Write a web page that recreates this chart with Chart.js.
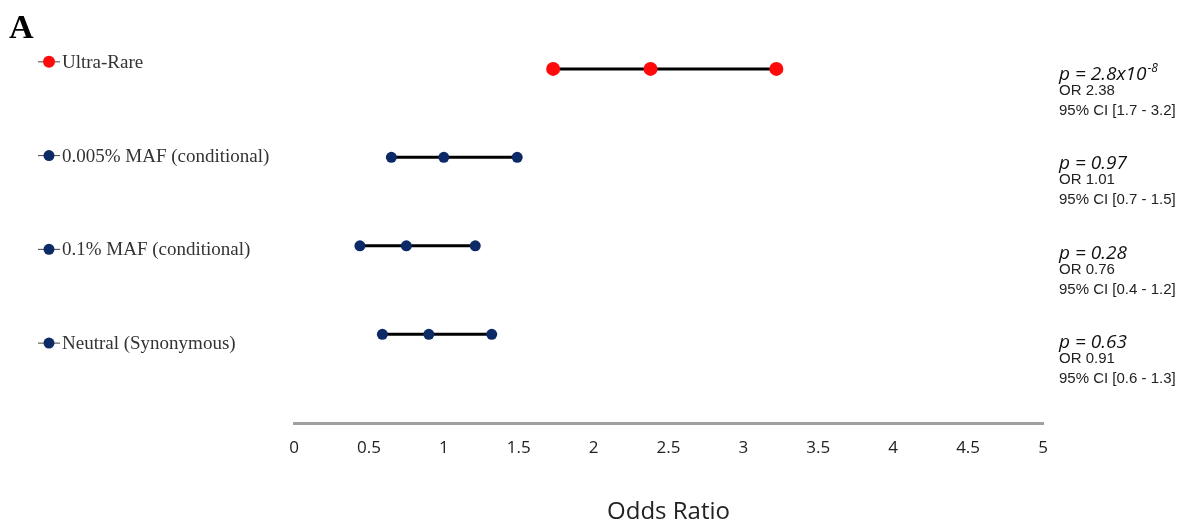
<!DOCTYPE html>
<html>
<head>
<meta charset="utf-8">
<script src="https://cdn.jsdelivr.net/npm/chart.js@4.4.1/dist/chart.umd.min.js"></script>
<style>
html,body{margin:0;padding:0;background:#fff;}
#wrap{width:1184px;height:521px;position:relative;}
</style>
</head>
<body>
<div id="wrap"><canvas id="c" width="1184" height="521"></canvas></div>
<script>
const categories = ['Ultra-Rare', '0.005% MAF (conditional)', '0.1% MAF (conditional)', 'Neutral (Synonymous)'];
const ciLower = [1.73, 0.65, 0.44, 0.59];
const oddsRatio = [2.38, 1.00, 0.75, 0.90];
const ciUpper = [3.22, 1.49, 1.21, 1.32];
const pBase = ['2.8x10', '0.97', '0.28', '0.63'];
const pExp = ['-8', '', '', ''];
const orText = ['OR 2.38', 'OR 1.01', 'OR 0.76', 'OR 0.91'];
const ciText = ['95% CI [1.7 - 3.2]', '95% CI [0.7 - 1.5]', '95% CI [0.4 - 1.2]', '95% CI [0.6 - 1.3]'];
const xTicks = [0, 0.5, 1, 1.5, 2, 2.5, 3, 3.5, 4, 4.5, 5];
const markerColors = ['#ff0a0a', '#0b2a66', '#0b2a66', '#0b2a66'];

const datasets = categories.map((c, i) => ({
  label: c,
  data: [{x: ciLower[i], y: i}, {x: oddsRatio[i], y: i}, {x: ciUpper[i], y: i}],
  showLine: true,
  borderColor: '#000',
  borderWidth: 3,
  pointBackgroundColor: markerColors[i],
  pointBorderColor: markerColors[i],
  pointRadius: i === 0 ? 7 : 5.5,
  pointBorderWidth: 0,
  pointHoverRadius: i === 0 ? 7 : 5.5
}));

const textPlugin = {
  id: 'texts',
  afterDraw(chart) {
    const ctx = chart.ctx;
    const y = chart.scales.y;
    ctx.save();
    ctx.fillStyle = '#000';
    ctx.font = 'bold 34px "Liberation Serif"';
    ctx.textBaseline = 'alphabetic';
    ctx.textAlign = 'left';
    ctx.fillText('A', 9, 38);
    categories.forEach((c, i) => {
      const ly = y.getPixelForValue(-0.08 + i * 1.06);
      ctx.strokeStyle = '#444';
      ctx.lineWidth = 1;
      ctx.beginPath();
      ctx.moveTo(38, ly); ctx.lineTo(60, ly); ctx.stroke();
      ctx.fillStyle = markerColors[i];
      ctx.beginPath();
      ctx.arc(49, ly, i === 0 ? 6 : 5.5, 0, Math.PI * 2); ctx.fill();
      ctx.fillStyle = '#333';
      ctx.font = '19px "Liberation Serif"';
      ctx.textBaseline = 'middle';
      ctx.fillText(c, 62, ly + 1);
      const ry = y.getPixelForValue(i * 1.01);
      ctx.fillStyle = '#111';
      ctx.font = 'italic 19px "Open Sans"';
      ctx.textBaseline = 'alphabetic';
      const s = 'p = ' + pBase[i];
      ctx.fillText(s, 1059, ry + 11);
      if (pExp[i]) {
        const w = ctx.measureText(s).width;
        ctx.font = 'italic 12px "Open Sans"';
        ctx.fillText(pExp[i], 1059 + w + 1, ry + 3);
      }
      ctx.fillStyle = '#222';
      ctx.font = '15px "Liberation Sans"';
      ctx.textBaseline = 'middle';
      ctx.fillText(orText[i], 1059, ry + 22);
      ctx.fillText(ciText[i], 1059, ry + 42);
    });
    ctx.restore();
  }
};

new Chart(document.getElementById('c'), {
  type: 'scatter',
  data: { datasets },
  options: {
    responsive: false,
    animation: false,
    events: [],
    layout: { padding: { left: 294, right: 141, top: 0, bottom: 0 } },
    plugins: { legend: { display: false }, tooltip: { enabled: false } },
    scales: {
      x: {
        type: 'linear',
        min: 0, max: 5,
        afterBuildTicks: (s) => { s.ticks = xTicks.map(v => ({ value: v })); },
        grid: { display: false, drawTicks: false },
        border: { display: true, color: '#a0a0a0', width: 3 },
        ticks: { padding: 14, color: '#222', font: { family: '"Open Sans"', size: 17 }, maxRotation: 0,
          callback: (v) => String(v) },
        title: { display: true, text: 'Odds Ratio', color: '#222',
          font: { family: '"Open Sans"', size: 24, lineHeight: 0.75 }, padding: { top: 31, bottom: 0 } }
      },
      y: {
        type: 'linear', display: false, reverse: true, min: -0.7, max: 4.01
      }
    }
  },
  plugins: [textPlugin]
});
</script>
</body>
</html>
